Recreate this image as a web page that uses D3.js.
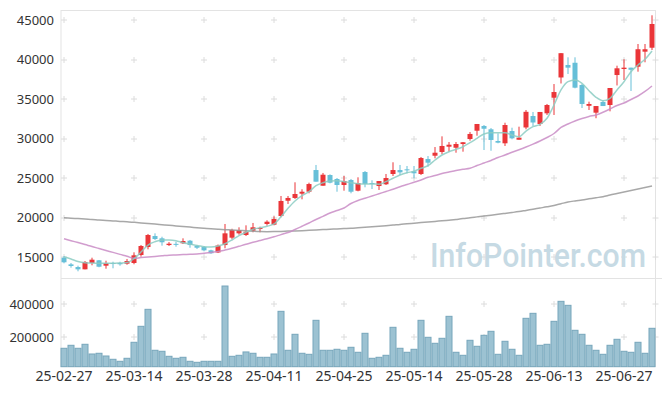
<!DOCTYPE html>
<html>
<head>
<meta charset="utf-8">
<script src="https://cdn.jsdelivr.net/npm/d3@7"></script>
<style>
body { margin: 0; background: #fff; }
text { font-family: "Noto Sans", sans-serif; }
</style>
</head>
<body>
<svg id="chart" width="665" height="396"></svg>
<script>
var dates = ['25-02-27','25-02-28','25-03-04','25-03-05','25-03-06','25-03-07','25-03-10','25-03-11','25-03-12','25-03-13',
	'25-03-14','25-03-17','25-03-18','25-03-19','25-03-20','25-03-21','25-03-24','25-03-25','25-03-26','25-03-27',
	'25-03-28','25-03-31','25-04-01','25-04-02','25-04-03','25-04-04','25-04-07','25-04-08','25-04-09','25-04-10',
	'25-04-11','25-04-14','25-04-15','25-04-16','25-04-17','25-04-18','25-04-21','25-04-22','25-04-23','25-04-24',
	'25-04-25','25-04-28','25-04-29','25-04-30','25-05-02','25-05-07','25-05-08','25-05-09','25-05-12','25-05-13',
	'25-05-14','25-05-15','25-05-16','25-05-19','25-05-20','25-05-21','25-05-22','25-05-23','25-05-26','25-05-27',
	'25-05-28','25-05-29','25-05-30','25-06-02','25-06-04','25-06-05','25-06-09','25-06-10','25-06-11','25-06-12',
	'25-06-13','25-06-16','25-06-17','25-06-18','25-06-19','25-06-20','25-06-23','25-06-24','25-06-25','25-06-26',
	'25-06-27','25-06-30','25-07-01','25-07-02','25-07-03']

var open = [14950,14110,13770,13480,14280,14620,13940,14280,14280,14190,
	14280,15290,16300,17690,17400,16550,16700,16770,17100,16430,
	16300,15880,15610,16550,17480,18030,17820,18360,18580,19210,
	19120,20220,22150,22500,23040,23290,26030,24050,25400,24900,
	24140,24770,23420,25780,24390,24010,24230,25530,26030,26120,
	25870,25530,27420,27840,28310,28980,28850,29320,29950,31000,
	31600,31180,29700,29410,30960,29860,31410,32860,31850,33200,
	35170,37730,39310,39590,36780,34150,33280,34630,34250,38040,
	38800,38970,39090,40990,41490]

var high = [15160,14280,13940,14530,14950,14660,14570,14440,14440,14790,
	15630,16550,17950,18030,17600,16930,16970,17400,17190,16550,
	16430,15960,16620,19210,18610,18790,19040,19340,18870,19680,
	20180,22750,22750,24480,23600,24430,26670,25660,25490,25020,
	25280,24900,25110,25910,24730,24640,25530,27010,26670,26540,
	26540,27680,27800,28940,30290,29570,29570,29570,30840,31850,
	31720,31340,30670,32010,31380,31510,33620,33370,33370,34380,
	36900,40820,40280,40280,36900,34670,34120,34880,36400,39220,
	40030,38970,41960,41960,45590]

var low = [14240,13690,13230,13480,13990,13740,13560,13610,13940,14060,
	14120,15080,16010,17190,16470,16430,16340,16680,16210,16050,
	15760,15450,15540,16140,17280,17860,17690,18160,18160,19000,
	19040,20060,21740,22370,22330,23090,24560,24050,24350,23290,
	23420,23090,23340,23850,23630,23510,24140,25280,25400,25620,
	24990,25400,26450,27510,28020,28350,28220,28350,29740,30370,
	28560,28470,29410,29070,29920,29860,31180,31600,31600,32990,
	32990,36970,38170,36360,33870,33620,32580,34120,33450,36720,
	37410,36020,38460,39650,41200]

var close = [14370,13900,13480,14410,14700,13810,14280,14150,14120,14530,
	15250,16430,17820,17310,16900,16720,16660,17060,16550,16210,
	15880,15510,16490,18030,18450,18450,18240,18790,18700,19500,
	19840,22120,22500,23000,23290,24260,24560,25440,24430,24140,
	24640,23290,24390,24270,24350,24640,25020,26030,25740,26070,
	25620,27550,26960,28220,29070,29230,29320,29540,30590,31850,
	31250,29830,29490,31720,30040,30120,33390,32040,33370,34250,
	35890,40800,38970,36440,34380,34380,34120,34120,36400,38890,
	38970,38700,41300,41300,44490]

var volume = [134000,152000,134000,158000,99700,104000,87700,67900,55900,73900,
	170000,266000,368000,122000,116000,85900,73900,79900,55900,49800,
	55900,55900,55900,508000,85900,91900,112000,104000,79900,79900,
	99700,356000,122000,218000,104000,97900,302000,122000,122000,128000,
	122000,140000,110000,224000,73900,79900,91900,260000,134000,110000,
	128000,302000,200000,164000,194000,326000,110000,91900,182000,146000,
	212000,236000,97900,176000,128000,91900,314000,344000,152000,158000,
	296000,416000,392000,242000,218000,152000,122000,97900,152000,188000,
	116000,110000,170000,104000,254000]

var ma5 = [15080,14790,14470,14320,14280,14250,14240,14240,14280,14340,
	14820,15670,16550,16970,17190,17190,17100,16850,16680,16490,
	16340,16300,16430,16720,17190,17730,18160,18540,18740,18920,
	19210,20130,21190,22120,22790,23290,24050,24430,24640,24680,
	24560,24430,24300,24270,24270,24230,24560,24990,25400,25690,
	25870,26250,26580,27300,27930,28350,28650,28980,29490,30040,
	30590,30750,30750,30750,30460,30240,30960,31510,31810,32570,
	34250,36150,37200,37410,36990,36060,35220,34790,35100,36150,
	37200,38460,39310,40030,41080]

var ma20 = [17350,17100,16860,16610,16370,16110,15860,15620,15370,15130,
	14870,14960,15040,15110,15190,15270,15300,15340,15380,15420,
	15510,15610,15730,15920,16140,16390,16640,16910,17120,17340,
	17590,17870,18130,18510,18920,19340,19780,20180,20600,20920,
	21230,21800,22180,22460,22750,23030,23320,23600,23920,24200,
	24480,24770,25110,25340,25590,25780,25970,26120,26250,26600,
	26920,27240,27610,27930,28270,28600,28940,29300,29700,30140,
	30650,31410,31850,32230,32540,32800,32990,33330,33750,34190,
	34500,34950,35390,35960,36650]

var ma60 = [20010,19940,19890,19830,19780,19710,19660,19600,19540,19490,
	19420,19350,19270,19200,19120,19040,18970,18890,18820,18740,
	18670,18600,18540,18490,18450,18400,18350,18300,18260,18240,
	18250,18270,18310,18340,18370,18410,18450,18500,18540,18590,
	18630,18670,18730,18790,18860,18920,18990,19070,19160,19230,
	19310,19390,19460,19540,19610,19690,19790,19890,20010,20110,
	20210,20320,20440,20550,20660,20780,20930,21080,21230,21380,
	21550,21770,21990,22130,22250,22390,22530,22660,22870,23060,
	23250,23440,23630,23820,24010]

var tickLabels = ['25-02-27','25-03-14','25-03-28','25-04-11','25-04-25','25-05-14','25-05-28','25-06-13','25-06-27']
var priceTicks = [15000,20000,25000,30000,35000,40000,45000]
var volTicks = [200000,400000]

var svg = d3.select('#chart')

var x = d3.scaleBand().domain(dates).range([60.5, 655.5])
var y = d3.scaleLinear().domain([12384, 46259]).range([278, 10])
var yv = d3.scaleLinear().domain([23400, 530000]).range([366.7, 282.35])

function cx(d) { return x(d) + x.bandwidth() / 2 }

var candles = dates.map(function(d, i) {
	return { date: d, o: open[i], h: high[i], l: low[i], c: close[i], v: volume[i] }
})

// frame
var frame = svg.append('g').attr('stroke', '#e3e3e3').attr('stroke-width', 1)
frame.append('line').attr('x1', 61).attr('x2', 655.5).attr('y1', 10.5).attr('y2', 10.5)
frame.append('line').attr('x1', 61).attr('x2', 61).attr('y1', 10).attr('y2', 367)
frame.append('line').attr('x1', 655.5).attr('x2', 655.5).attr('y1', 10).attr('y2', 367)
frame.append('line').attr('x1', 61).attr('x2', 662).attr('y1', 278.5).attr('y2', 278.5)
frame.append('line').attr('x1', 61).attr('x2', 655.5).attr('y1', 366.5).attr('y2', 366.5)

// grid crosses
var gx = tickLabels.map(cx).concat([655.5])
var gy = priceTicks.map(y).concat(volTicks.map(yv))
var pts = []
gx.forEach(function(a) { gy.forEach(function(b) { pts.push([a, b]) }) })
svg.append('g').selectAll('path').data(pts).enter().append('path')
	.attr('d', function(p) { return 'M' + (p[0] - 3) + ',' + Math.round(p[1]) + 'h6M' + p[0] + ',' + (Math.round(p[1]) - 3) + 'v6' })
	.attr('stroke', '#dcdcdc')
	.attr('stroke-width', 1)

// watermark
svg.append('text')
	.attr('x', 430).attr('y', 267)
	.attr('textLength', 216).attr('lengthAdjust', 'spacingAndGlyphs')
	.style('font-family', 'Roboto, sans-serif')
	.style('font-weight', 500)
	.style('font-size', '33px')
	.style('fill', '#c6dae4')
	.text('InfoPointer.com')

// volume
svg.append('g').selectAll('rect').data(candles).enter().append('rect')
	.attr('x', function(d) { return cx(d.date) - 3 })
	.attr('width', 6)
	.attr('y', function(d) { return yv(d.v) })
	.attr('height', function(d) { return yv.range()[0] - yv(d.v) })
	.attr('fill', '#9cc2d2')
	.attr('stroke', '#77a6bb')
	.attr('stroke-width', 1)

// candles
var up = '#ea3538', down = '#66bfd8'
var cg = svg.append('g').selectAll('g').data(candles).enter().append('g')
cg.append('line')
	.attr('x1', function(d) { return cx(d.date) }).attr('x2', function(d) { return cx(d.date) })
	.attr('y1', function(d) { return y(d.h) }).attr('y2', function(d) { return y(d.l) })
	.attr('stroke', function(d) { return d.c >= d.o ? up : down })
	.attr('stroke-width', 1)
cg.append('rect')
	.attr('x', function(d) { return cx(d.date) - 2.5 })
	.attr('width', 5)
	.attr('y', function(d) { return y(Math.max(d.o, d.c)) })
	.attr('height', function(d) { return Math.max(1, Math.abs(y(d.o) - y(d.c))) })
	.attr('fill', function(d) { return d.c >= d.o ? up : down })

// moving averages
function maLine(arr, color, w) {
	var line = d3.line()
		.x(function(d, i) { return cx(dates[i]) })
		.y(function(d) { return y(d) })
		.curve(d3.curveMonotoneX)
	svg.append('path').datum(arr)
		.attr('d', line)
		.attr('fill', 'none')
		.attr('stroke', color)
		.attr('stroke-width', w)
		.attr('stroke-opacity', 0.85)
}
maLine(ma60, '#999999', 1.5)
maLine(ma20, '#c98cc6', 1.5)
maLine(ma5, '#8ccdc3', 1.5)

// axes
function styleAxis(g, size) {
	g.select('.domain').remove()
	g.selectAll('text').style('font-size', size).style('fill', '#333').style('font-family', '"Noto Sans", sans-serif')
}
svg.append('g').attr('transform', 'translate(61,0)')
	.call(d3.axisLeft(y).tickValues(priceTicks).tickSize(0).tickPadding(7).tickFormat(d3.format('d')))
	.call(styleAxis, '13px')
svg.append('g').attr('transform', 'translate(61,0)')
	.call(d3.axisLeft(yv).tickValues(volTicks).tickSize(0).tickPadding(7).tickFormat(d3.format('d')))
	.call(styleAxis, '13px')
svg.append('g').attr('transform', 'translate(0,366.7)')
	.call(d3.axisBottom(x).tickValues(tickLabels).tickSize(0).tickPadding(4))
	.call(styleAxis, '14px')
</script>
</body>
</html>
